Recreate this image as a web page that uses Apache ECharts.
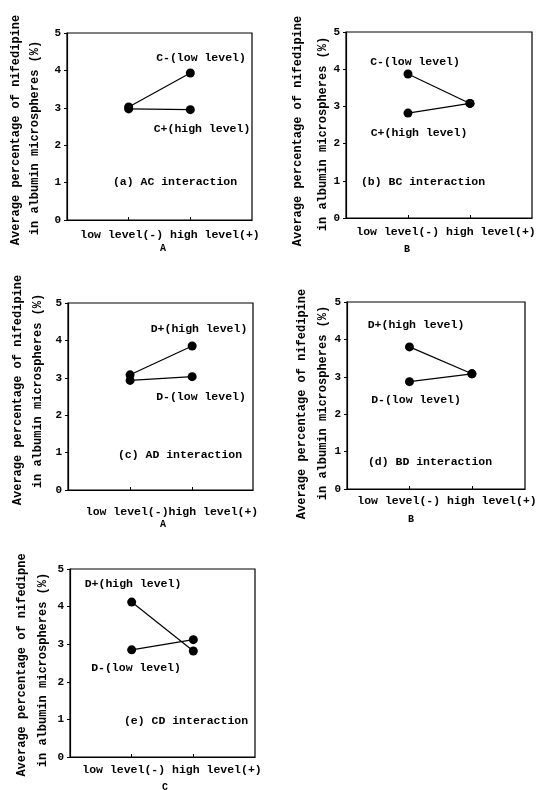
<!DOCTYPE html>
<html><head><meta charset="utf-8">
<script src="https://cdn.jsdelivr.net/npm/echarts@6/dist/echarts.min.js"></script>
<style>html,body{margin:0;padding:0;background:#fff}#c{width:537px;height:790px}</style>
</head><body><div id="c"></div>
<script>
// ---- data ----
const levels = ['low level(-)', 'high level(+)'];
const yTicks = [0, 1, 2, 3, 4, 5];
const factors = ['A', 'B', 'A', 'B', 'C'];
const titles = ['(a) AC interaction', '(b) BC interaction', '(c) AD interaction', '(d) BD interaction', '(e) CD interaction'];
const yName1 = ['Average percentage of nifedipine', 'Average percentage of nifedipine', 'Average percentage of nifedipine', 'Average percentage of nifedipine', 'Average percentage of nifedipne'];
const yName2 = 'in albumin microspheres (%)';

const acNames = ['C-(low level)', 'C+(high level)'];
const acCminus = [3.02, 3.93];
const acCplus  = [2.97, 2.95];

const bcNames = ['C-(low level)', 'C+(high level)'];
const bcCminus = [3.87, 3.08];
const bcCplus  = [2.82, 3.08];

const adNames = ['D+(high level)', 'D-(low level)'];
const adDplus  = [3.08, 3.85];
const adDminus = [2.93, 3.03];

const bdNames = ['D+(high level)', 'D-(low level)'];
const bdDplus  = [3.80, 3.08];
const bdDminus = [2.87, 3.08];

const cdNames = ['D+(high level)', 'D-(low level)'];
const cdDplus  = [4.12, 2.82];
const cdDminus = [2.85, 3.12];

const panelSeries = [
  [[acNames[0], acCminus], [acNames[1], acCplus]],
  [[bcNames[0], bcCminus], [bcNames[1], bcCplus]],
  [[adNames[0], adDplus], [adNames[1], adDminus]],
  [[bdNames[0], bdDplus], [bdNames[1], bdDminus]],
  [[cdNames[0], cdDplus], [cdNames[1], cdDminus]]
];

// ---- layout ----
const layout = [
  {l:67, t:33, r:252, b:220, xmax:3, y1:[16,130], y2:[35,138], lab:[[201,58],[202,129]], ttl:[175,182], xl:[170,235], fl:[163,248]},
  {l:346, t:32, r:532, b:218, xmax:3, y1:[298,131], y2:[323,134], lab:[[415,62],[419,133]], ttl:[423,182], xl:[446,232], fl:[407,249]},
  {l:68, t:303, r:253, b:490, xmax:2.98, y1:[18,390], y2:[38,391], lab:[[199,329],[201,397]], ttl:[180,455], xl:[172,512], fl:[163,524]},
  {l:347, t:302, r:525, b:489, xmax:2.85, y1:[302,404], y2:[323,403], lab:[[416,325],[416,400]], ttl:[430,462], xl:[447,501], fl:[411,519]},
  {l:70, t:569, r:255, b:757, xmax:3, y1:[22,665], y2:[43,670], lab:[[133,584],[136,668]], ttl:[186,721], xl:[172,770], fl:[165,787]}
];

const FONT = '"Liberation Mono", "DejaVu Sans Mono", monospace';
const grid = [], xAxis = [], yAxis = [], series = [], graphic = [];
function txt(x, y, text, size, rot) {
  const g = {type:'text', x:x, y:y, style:{text:text, font:'bold ' + size + 'px ' + FONT, fill:'#000', textAlign:'center', textVerticalAlign:'middle'}};
  if (rot) g.rotation = Math.PI / 2;
  return g;
}
layout.forEach((L, i) => {
  grid.push({left:L.l, top:L.t, width:L.r - L.l, height:L.b - L.t, show:true, borderColor:'#000', borderWidth:1.2, containLabel:false});
  xAxis.push({type:'value', gridIndex:i, min:0, max:L.xmax, splitLine:{show:false},
    axisLine:{show:true, lineStyle:{color:'#000', width:1.2}},
    axisTick:{show:true, inside:true, length:3, customValues:[1, 2], lineStyle:{color:'#000'}},
    axisLabel:{show:false}});
  yAxis.push({type:'value', gridIndex:i, min:yTicks[0], max:yTicks[yTicks.length-1], interval:1, splitLine:{show:false},
    axisLine:{show:true, lineStyle:{color:'#000', width:1.2}},
    axisTick:{show:true, length:3, lineStyle:{color:'#000'}},
    axisLabel:{color:'#000', fontSize:11, fontWeight:'bold', fontFamily:FONT, margin:6}});
  panelSeries[i].forEach(([name, vals]) => {
    series.push({type:'line', name:name, xAxisIndex:i, yAxisIndex:i,
      data: vals.map((v, k) => [k + 1, v]),
      symbol:'circle', symbolSize:9, itemStyle:{color:'#000'},
      lineStyle:{color:'#000', width:1.2}, silent:true, animation:false});
  });
  panelSeries[i].forEach(([name], k) => graphic.push(txt(L.lab[k][0], L.lab[k][1], name, 11.5)));
  graphic.push(txt(L.ttl[0], L.ttl[1], titles[i], 11.5));
  graphic.push(txt(L.xl[0], L.xl[1], levels[0] + (i === 2 ? '' : ' ') + levels[1], 11.5));
  graphic.push(txt(L.fl[0], L.fl[1], factors[i], 10));
  graphic.push(txt(L.y1[0], L.y1[1], yName1[i], 12, true));
  graphic.push(txt(L.y2[0], L.y2[1], yName2, 12, true));
});

const chart = echarts.init(document.getElementById('c'), null, {renderer:'canvas'});
chart.setOption({backgroundColor:'#fff', animation:false, grid, xAxis, yAxis, series, graphic});
</script>
</body></html>
